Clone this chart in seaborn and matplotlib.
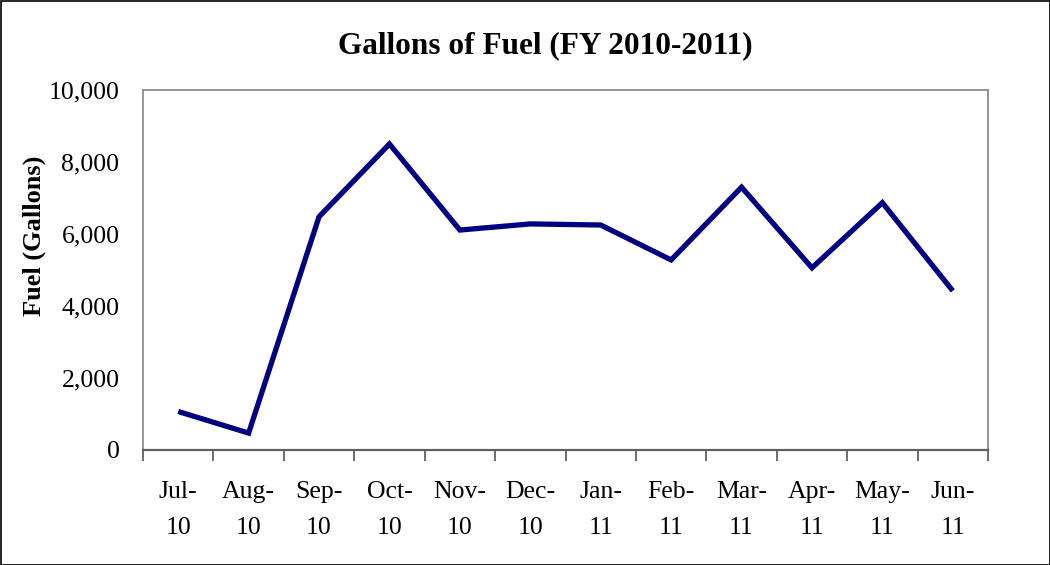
import matplotlib
matplotlib.use("Agg")
import matplotlib.pyplot as plt
import seaborn as sns
import pandas as pd
from matplotlib.patches import Rectangle
from matplotlib.ticker import FuncFormatter, FixedLocator

months = ["Jul-\n10", "Aug-\n10", "Sep-\n10", "Oct-\n10", "Nov-\n10", "Dec-\n10",
          "Jan-\n11", "Feb-\n11", "Mar-\n11", "Apr-\n11", "May-\n11", "Jun-\n11"]
fuel = [1070, 470, 6480, 8500, 6110, 6280, 6250, 5280, 7300, 5060, 6870, 4420]
yticks = [0, 2000, 4000, 6000, 8000, 10000]

sns.set_theme(style="white")
plt.rcParams["font.family"] = ["Liberation Serif", "DejaVu Serif"]
plt.rcParams["text.color"] = "black"
plt.rcParams["axes.labelcolor"] = "black"
plt.rcParams["xtick.color"] = "black"
plt.rcParams["ytick.color"] = "black"

df = pd.DataFrame({"month": months, "fuel": fuel})

fig = plt.figure(figsize=(10.5, 5.65), dpi=100)
ax = fig.add_axes([143/1050, 1-450/565, (988-143)/1050, 360/565])

sns.lineplot(data=df, x="month", y="fuel", ax=ax, color="#000080",
             linewidth=3.8, sort=False, solid_joinstyle="miter",
             solid_capstyle="butt")

ax.set_xlim(-0.5, len(months) - 0.5)
ax.set_ylim(0, 10000)
ax.set_yticks(yticks)
ax.yaxis.set_major_formatter(FuncFormatter(lambda v, p: f"{int(v):,}"))
ax.tick_params(axis="y", length=0, pad=17, labelsize=18.5, labelcolor="black")
ax.set_xticks(range(len(months)))
ax.set_xticklabels(months, linespacing=1.85)
ax.tick_params(axis="x", which="major", length=0, pad=22, labelsize=18.5,
               labelcolor="black")
ax.xaxis.set_minor_locator(FixedLocator([i - 0.5 for i in range(len(months) + 1)]))
ax.tick_params(axis="x", which="minor", length=8, width=1.3, color="#606060",
               direction="out", bottom=True)

for side in ["left", "top", "right"]:
    ax.spines[side].set_color("#8c8c8c")
    ax.spines[side].set_linewidth(1.3)
ax.spines["bottom"].set_color("#606060")
ax.spines["bottom"].set_linewidth(1.6)

ax.set_xlabel("")
ax.set_ylabel("Fuel (Gallons)", fontsize=19, fontweight="bold", color="black")
ax.yaxis.set_label_coords(-0.115, 0.594)

fig.text(545/1050, 1-46/565, "Gallons of Fuel (FY 2010-2011)", ha="center",
         va="center", fontsize=22.5, fontweight="bold", color="black")

fig.patches.append(Rectangle((0.5/1050, 0.5/565), 1-1/1050, 1-1/565,
                             transform=fig.transFigure, fill=False,
                             edgecolor="black", linewidth=1.2))

fig.savefig("out.png", dpi=100)
